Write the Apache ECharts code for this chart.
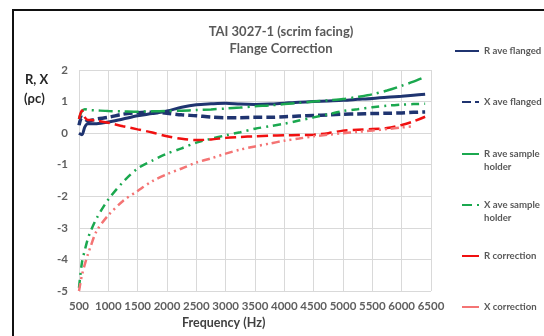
<!DOCTYPE html>
<html>
<head>
<meta charset="utf-8">
<title>TAI 3027-1 Flange Correction</title>
<script src="https://cdn.jsdelivr.net/npm/echarts@6/dist/echarts.min.js"></script>
<style>
  html, body { margin: 0; padding: 0; background: #fff; }
  #chart { width: 544px; height: 336px; }
</style>
</head>
<body>
<div id="chart"></div>
<script>
// Frequency points (Hz) shared by all curves
const freq = [500, 550, 600, 650, 700, 800, 1000, 1250, 1500, 1750, 2000, 2250, 2500, 2750, 3000,
              3250, 3500, 3750, 4000, 4250, 4500, 4750, 5000, 5250, 5500, 5750, 6000, 6200, 6400];

// Normalised impedance components (rho*c)
const rAveFlanged = [0.0, -0.05, 0.2, 0.3, 0.3, 0.3, 0.35, 0.45, 0.55, 0.62, 0.7, 0.82, 0.9, 0.93, 0.95,
                     0.92, 0.91, 0.92, 0.95, 0.98, 1.0, 1.02, 1.04, 1.07, 1.1, 1.14, 1.17, 1.2, 1.23];
const xAveFlanged = [0.25, 0.5, 0.45, 0.38, 0.4, 0.45, 0.5, 0.6, 0.65, 0.66, 0.63, 0.58, 0.55, 0.51, 0.49,
                     0.49, 0.5, 0.5, 0.52, 0.54, 0.56, 0.58, 0.6, 0.61, 0.62, 0.63, 0.64, 0.66, 0.67];
const rAveHolder = [0.45, 0.7, 0.76, 0.74, 0.73, 0.72, 0.7, 0.69, 0.68, 0.69, 0.7, 0.71, 0.73, 0.75, 0.78,
                    0.81, 0.85, 0.88, 0.92, 0.96, 1.0, 1.04, 1.08, 1.15, 1.23, 1.35, 1.5, 1.63, 1.78];
const xAveHolder = [-4.9, -4.1, -3.7, -3.35, -3.1, -2.7, -2.1, -1.55, -1.12, -0.87, -0.65, -0.48, -0.3, -0.18, -0.07,
                    0.03, 0.14, 0.22, 0.3, 0.4, 0.5, 0.6, 0.7, 0.76, 0.82, 0.87, 0.9, 0.92, 0.93];
const rCorrection = [0.45, 0.72, 0.5, 0.42, 0.42, 0.4, 0.33, 0.22, 0.12, 0.02, -0.1, -0.18, -0.22, -0.2, -0.15,
                     -0.12, -0.1, -0.08, -0.07, -0.06, -0.05, 0.0, 0.08, 0.11, 0.13, 0.16, 0.26, 0.37, 0.52];
const xCorrection = [-5.0, -4.5, -4.15, -3.85, -3.58, -3.1, -2.6, -2.15, -1.83, -1.52, -1.3, -1.12, -0.93, -0.8, -0.65,
                     -0.52, -0.42, -0.33, -0.24, -0.17, -0.1, -0.05, 0.0, 0.04, 0.08, 0.13, 0.18, 0.22, null];

const seriesNames = ['R ave flanged', 'X ave flanged', 'R ave sample holder',
                     'X ave sample holder', 'R correction', 'X correction'];
const seriesValues = [rAveFlanged, xAveFlanged, rAveHolder, xAveHolder, rCorrection, xCorrection];

// Line styling per curve
const styles = [
  { color: '#1f3470', width: 3,   type: 'solid' },
  { color: '#1f3470', width: 3.5, type: [9, 4] },
  { color: '#1ba84f', width: 2.5, type: [14, 5, 2, 5] },
  { color: '#1ba84f', width: 2.5, type: [8, 5, 2, 5] },
  { color: '#f01010', width: 2.5, type: [11, 5] },
  { color: '#f47474', width: 2.5, type: [8, 4, 2, 4, 2, 4] }
];

// Legend rows: vertical centre of each entry's first line
const legendRowY = [51, 102, 154, 205, 256, 307];
const legendLabels = ['R ave flanged', 'X ave flanged', ' \nR ave sample\nholder',
                      ' \nX ave sample\nholder', 'R correction', 'X correction'];
const legendIcons = ['solid', [9, 4], 'solid', [10, 5, 2, 5], 'solid', 'solid'];
const legendIconWidth = [24, 17, 17, 17, 17, 17];

const lineH = 13;
const legends = seriesNames.map((name, i) => {
  const lines = legendLabels[i].split('\n').length;
  const boxH = lines * lineH;
  return {
    orient: 'vertical',
    left: 478 - legendIconWidth[i],
    top: legendRowY[i] - boxH / 2,
    padding: 0,
    itemWidth: legendIconWidth[i],
    itemHeight: 10,
    selectedMode: false,
    formatter: () => legendLabels[i],
    itemStyle: { opacity: 0 },
    textStyle: { fontFamily: 'Lato', fontSize: 9.6, fontWeight: 'bold', color: '#595959', lineHeight: lineH },
    data: [{ name: name, lineStyle: { type: legendIcons[i] } }]
  };
});

const chart = echarts.init(document.getElementById('chart'), null, { renderer: 'canvas' });

chart.setOption({
  animation: false,
  backgroundColor: '#fff',
  title: {
    text: 'TAI 3027-1 (scrim facing)\nFlange Correction',
    left: 281,
    top: 23,
    textAlign: 'center',
    padding: 0,
    textStyle: { fontFamily: 'Lato', fontSize: 13, fontWeight: 'bold', color: '#595959', lineHeight: 17 }
  },
  legend: legends,
  grid: { left: 79, right: 113, top: 70, bottom: 45 },
  xAxis: {
    type: 'value',
    min: 500, max: 6500, interval: 500,
    axisLine: { show: false },
    axisTick: { show: false },
    splitLine: { show: true, lineStyle: { color: '#d9d9d9', width: 1 } },
    axisLabel: { margin: 9, formatter: v => String(v), fontFamily: 'Lato', fontSize: 11.5, fontWeight: 'bold', color: '#5f5f5f' }
  },
  yAxis: {
    type: 'value',
    min: -5, max: 2, interval: 1,
    axisLine: { show: false },
    axisTick: { show: false },
    splitLine: { show: true, lineStyle: { color: '#d9d9d9', width: 1 } },
    axisLabel: { margin: 11, formatter: v => String(v), fontFamily: 'Lato', fontSize: 11.5, fontWeight: 'bold', color: '#5f5f5f' }
  },
  graphic: [
    // frame edges
    { type: 'line', shape: { x1: 12, y1: 10, x2: 544, y2: 10 }, style: { stroke: '#111', lineWidth: 2 } },
    { type: 'line', shape: { x1: 13, y1: 9, x2: 13, y2: 336 }, style: { stroke: '#111', lineWidth: 2 } },
    // axis titles
    { type: 'text', left: 25, top: 73, style: { text: 'R, X', fontFamily: 'Lato', fontSize: 13, fontWeight: 'bold', fill: '#262626' } },
    { type: 'text', left: 24, top: 92, style: { text: '(ρc)', fontFamily: 'Lato', fontSize: 13, fontWeight: 'bold', fill: '#262626' } },
    { type: 'text', left: 182, top: 316, style: { text: 'Frequency (Hz)', fontFamily: 'Lato', fontSize: 12.5, fontWeight: 'bold', fill: '#404040' } }
  ],
  series: seriesNames.map((name, i) => ({
    name: name,
    type: 'line',
    symbol: 'none',
    smooth: 0.3,
    connectNulls: false,
    lineStyle: { color: styles[i].color, width: styles[i].width, type: styles[i].type },
    itemStyle: { color: styles[i].color },
    data: freq.map((f, k) => [f, seriesValues[i][k]])
  }))
});
</script>
</body>
</html>
